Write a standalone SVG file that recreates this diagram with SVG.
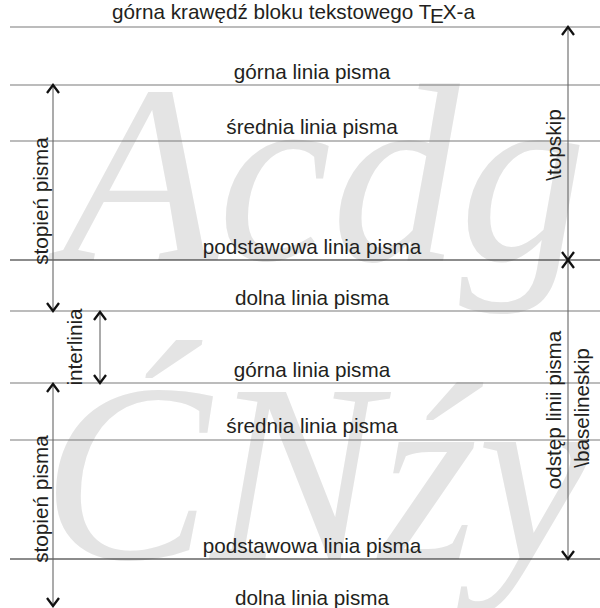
<svg xmlns="http://www.w3.org/2000/svg" width="600" height="608" viewBox="0 0 600 608">
<style>
.bg{font-family:"Liberation Serif","Times New Roman",serif;font-style:italic;font-size:255px;fill:#e4e4e4}
.hl{stroke:#7a7a7a;stroke-width:1.2}
.bl{stroke:#1a1a1a;stroke-width:1.2}
.lab{font-family:"Liberation Sans",Arial,sans-serif;font-size:20.7px;fill:#231f20;text-anchor:middle}
.shaft{stroke:#666;stroke-width:1.1;fill:none}
</style>
<defs>
<marker id="arr" markerUnits="userSpaceOnUse" viewBox="-10 -8 12 16" markerWidth="12" markerHeight="16" refX="0" refY="0" orient="auto-start-reverse" overflow="visible">
<path d="M -8 -6 L 0 0 L -8 6" fill="none" stroke="#111" stroke-width="2.3"/>
</marker>
</defs>
<rect width="600" height="608" fill="#fff"/>
<g id="background-letters">
<text class="bg" x="62" y="260" textLength="525" lengthAdjust="spacingAndGlyphs">Acdg</text>
<text class="bg" x="42" y="559" textLength="548" lengthAdjust="spacingAndGlyphs">ĆNźy</text>
</g>
<g id="lines">
<line class="hl" x1="10" y1="27" x2="600" y2="27"/>
<line class="hl" x1="10" y1="85" x2="600" y2="85"/>
<line class="hl" x1="10" y1="141" x2="600" y2="141"/>
<line class="bl" x1="10" y1="260" x2="600" y2="260"/>
<line class="hl" x1="10" y1="311" x2="600" y2="311"/>
<line class="hl" x1="10" y1="383" x2="600" y2="383"/>
<line class="hl" x1="10" y1="440" x2="600" y2="440"/>
<line class="bl" x1="10" y1="559" x2="600" y2="559"/>
</g>
<g id="labels">
<text class="lab" x="293.5" y="19">górna krawędź bloku tekstowego T<tspan dx="-1.5" dy="4">E</tspan><tspan dx="-1" dy="-4">X</tspan>-a</text>
<text class="lab" x="312" y="79">górna linia pisma</text>
<text class="lab" x="312" y="134">średnia linia pisma</text>
<text class="lab" x="312" y="254">podstawowa linia pisma</text>
<text class="lab" x="312" y="305">dolna linia pisma</text>
<text class="lab" x="312" y="377">górna linia pisma</text>
<text class="lab" x="312" y="433">średnia linia pisma</text>
<text class="lab" x="312" y="553">podstawowa linia pisma</text>
<text class="lab" x="312" y="605">dolna linia pisma</text>
</g>
<g id="connectors">
<line class="shaft" x1="53" y1="85" x2="53" y2="311" marker-start="url(#arr)" marker-end="url(#arr)"/>
<line class="shaft" x1="100" y1="312" x2="100" y2="383" marker-start="url(#arr)" marker-end="url(#arr)"/>
<line class="shaft" x1="53" y1="384" x2="53" y2="606" marker-start="url(#arr)" marker-end="url(#arr)"/>
<line class="shaft" x1="568" y1="27" x2="568" y2="260" marker-start="url(#arr)" marker-end="url(#arr)"/>
<line class="shaft" x1="568" y1="260" x2="568" y2="559" marker-start="url(#arr)" marker-end="url(#arr)"/>
</g>
<g id="dimension-labels">
<text class="lab" transform="translate(48,201) rotate(-90)">stopień pisma</text>
<text class="lab" transform="translate(48,499) rotate(-90)">stopień pisma</text>
<text class="lab" transform="translate(82,347) rotate(-90)">interlinia</text>
<text class="lab" transform="translate(561,145) rotate(-90)">\topskip</text>
<text class="lab" transform="translate(561,410) rotate(-90)">odstęp linii pisma</text>
<text class="lab" transform="translate(589,408) rotate(-90)">\baselineskip</text>
</g>
</svg>
